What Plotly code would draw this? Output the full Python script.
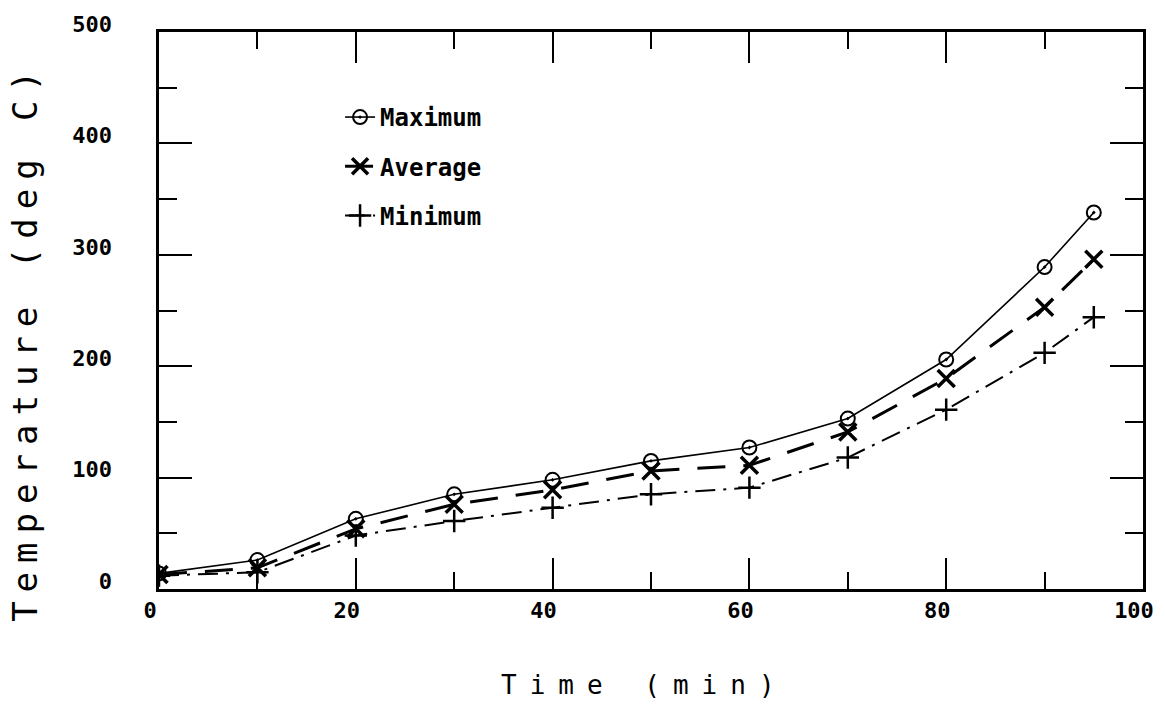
import plotly.graph_objects as go

time_min = [0, 10, 20, 30, 40, 50, 60, 70, 80, 90, 95]
temp_max = [14, 26, 63, 85, 98, 115, 127, 153, 206, 289, 338]
temp_avg = [13, 19, 54, 76, 89, 106, 111, 141, 189, 253, 296]
temp_min = [12, 15, 48, 61, 73, 85, 91, 118, 161, 212, 244]

x_range = [0, 100]
y_range = [0, 500]
x_major, x_minor = 20, 10
y_major, y_minor = 100, 50

MONO = "DejaVu Sans Mono"

fig = go.Figure()
fig.add_trace(go.Scatter(
    x=time_min, y=temp_max, name="Maximum", legendgroup="a",
    mode="lines+markers",
    line=dict(color="black", width=1.6),
    marker=dict(symbol="circle-open-dot", size=14, color="black", line=dict(width=2, color="black")),
))
fig.add_trace(go.Scatter(
    x=time_min, y=temp_avg, name="Average", legendgroup="b",
    mode="lines+markers",
    line=dict(color="black", width=3, dash="28px,18px"),
    marker=dict(symbol="x-thin-open", size=17, color="black", line=dict(width=3.5, color="black")),
))
fig.add_trace(go.Scatter(
    x=time_min, y=temp_min, name="Minimum", legendgroup="c",
    mode="lines+markers",
    line=dict(color="black", width=2, dash="20px,8px,3px,8px"),
    marker=dict(symbol="cross-thin-open", size=16, color="black", line=dict(width=2.5, color="black")),
))
# empty trace so the overlaid minor-tick axes are drawn
fig.add_trace(go.Scatter(x=[], y=[], xaxis="x2", yaxis="y2", showlegend=False, hoverinfo="skip"))

axis_common = dict(
    showline=True, linecolor="black", linewidth=2.5, mirror="allticks",
    ticks="inside", tickcolor="black", tickwidth=2,
    showgrid=False, zeroline=False, tickmode="linear", tick0=0,
    tickfont=dict(family=MONO, size=22, color="black", weight="bold"),
)
minor_common = dict(
    showline=False, mirror="allticks", ticks="inside", tickcolor="black", tickwidth=2,
    showgrid=False, zeroline=False, tickmode="linear", tick0=0, showticklabels=False,
)

fig.update_layout(
    xaxis=dict(range=x_range, dtick=x_major, ticklen=31, ticklabelshift=-9, **axis_common),
    yaxis=dict(range=y_range, dtick=y_major, ticklen=33, ticklabelshift=-8,
               ticksuffix="\u00a0\u00a0\u00a0", **axis_common),
    xaxis2=dict(range=x_range, dtick=x_minor, ticklen=17, overlaying="x", anchor="y", side="bottom", **minor_common),
    yaxis2=dict(range=y_range, dtick=y_minor, ticklen=18, overlaying="y", anchor="x", side="left", **minor_common),
)

fig.add_annotation(
    xref="paper", yref="paper", x=0.493, y=-0.172, xanchor="center", yanchor="middle",
    text='<span style="letter-spacing:13px">Time (min)</span>', showarrow=False,
    font=dict(family=MONO, size=26, color="black"),
)
fig.add_annotation(
    xref="paper", yref="paper", x=-0.136, y=0.444, xanchor="center", yanchor="middle",
    textangle=-90,
    text='<span style="letter-spacing:9px">Temperature (deg C)</span>', showarrow=False,
    font=dict(family=MONO, size=34, color="black"),
)

fig.update_layout(
    width=1165, height=705,
    margin=dict(l=159, r=22, t=32, b=116),
    paper_bgcolor="white", plot_bgcolor="white",
    showlegend=True,
    legend=dict(
        x=0.184, y=0.887, xanchor="left", yanchor="top",
        bgcolor="rgba(0,0,0,0)", borderwidth=0,
        font=dict(family=MONO, size=24, color="black", weight="bold"),
        tracegroupgap=15, itemwidth=30,
    ),
)

fig.write_html("out.html")
